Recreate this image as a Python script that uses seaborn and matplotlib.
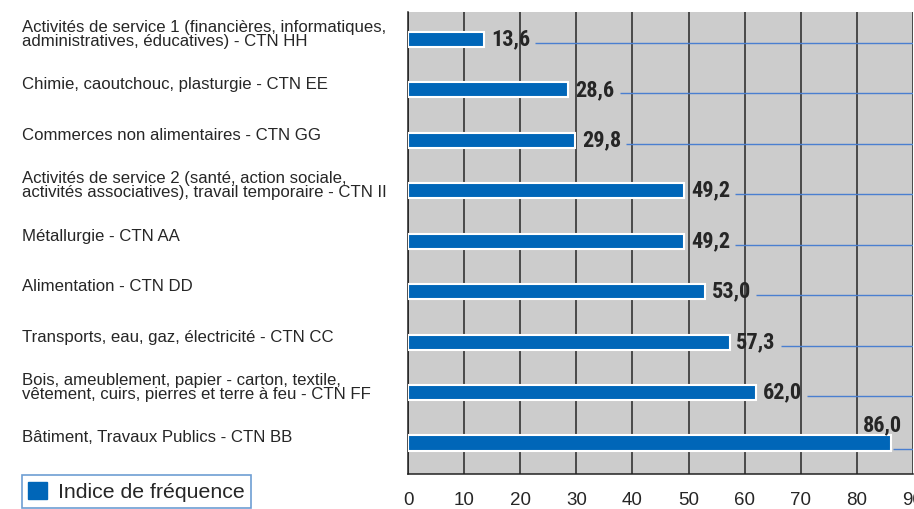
import numpy as np
import pandas as pd
import seaborn as sns
import matplotlib.pyplot as plt
from matplotlib.patches import Patch
import matplotlib.transforms as mtransforms

categories = [
    "Activités de service 1 (financières, informatiques,\nadministratives, éducatives) - CTN HH",
    "Chimie, caoutchouc, plasturgie - CTN EE",
    "Commerces non alimentaires - CTN GG",
    "Activités de service 2 (santé, action sociale,\nactivités associatives), travail temporaire - CTN II",
    "Métallurgie - CTN AA",
    "Alimentation - CTN DD",
    "Transports, eau, gaz, électricité - CTN CC",
    "Bois, ameublement, papier - carton, textile,\nvêtement, cuirs, pierres et terre à feu - CTN FF",
    "Bâtiment, Travaux Publics - CTN BB",
]
values = [13.6, 28.6, 29.8, 49.2, 49.2, 53.0, 57.3, 62.0, 86.0]
value_labels = ["13,6", "28,6", "29,8", "49,2", "49,2", "53,0", "57,3", "62,0", "86,0"]
xticks = [0, 10, 20, 30, 40, 50, 60, 70, 80, 90]
legend_label = "Indice de fréquence"

df = pd.DataFrame({"cat": categories, "val": values})

sns.set_style("white")
plt.rcParams["font.family"] = ["Liberation Sans", "DejaVu Sans"]
narrow = ["Roboto Condensed", "Liberation Sans", "DejaVu Sans"]

blue = "#0066b8"
W, H = 914, 509
fig = plt.figure(figsize=(W / 100, H / 100), dpi=100)
ax = fig.add_axes([408 / W, 1 - 474 / H, (913 - 408) / W, (474 - 12) / H])

sns.barplot(data=df, x="val", y="cat", orient="h", color=blue, width=0.3,
            edgecolor="white", linewidth=1.5, saturation=1, ax=ax, zorder=3)

ax.set_facecolor("#cccccc")
ax.set_xlim(0, 90)
ax.set_ylim(8.615, -0.545)
ax.set_xticks(xticks)
ax.set_xticklabels([str(t) for t in xticks], fontsize=13.5)
ax.grid(axis="x", color="#333333", linewidth=1.2, zorder=0)
ax.set_axisbelow(True)
ax.set_xlabel("")
ax.set_ylabel("")
ax.set_yticks([])
ax.tick_params(axis="x", direction="out", length=7, width=1.1, color="#222222", pad=6)
for s in ["top", "right"]:
    ax.spines[s].set_visible(False)
for s in ["left", "bottom"]:
    ax.spines[s].set_color("#222222")
    ax.spines[s].set_linewidth(1.1)

# category labels, left aligned near the figure edge (sit a little above the bars)
trans = mtransforms.blended_transform_factory(fig.transFigure, ax.transData)
for i, c in enumerate(categories):
    ax.text(22 / W, i - 0.1, c, transform=trans, ha="left", va="center",
            fontsize=12.1, linespacing=0.95, clip_on=False)

# value labels and the thin leader lines
for i, (v, lab) in enumerate(zip(values, value_labels)):
    if v > 80:
        ax.text(88.1, i - 0.36, lab, ha="right", va="center", fontsize=16,
                fontweight="bold", family=narrow, zorder=5)
        ax.hlines(i + 0.12, v + 0.5, 90, color="#4a7fd0", linewidth=1, zorder=2)
    else:
        ax.text(v + 1.2, i, lab, ha="left", va="center", fontsize=16,
                fontweight="bold", family=narrow, zorder=5)
        ax.hlines(i + 0.07, v + 9.1, 90, color="#4a7fd0", linewidth=1, zorder=2)

handles = [Patch(facecolor=blue, edgecolor=blue)]
leg = fig.legend(handles, [legend_label], loc="lower left",
                 bbox_to_anchor=(22 / W, 1 - 508 / H), fontsize=15.3,
                 frameon=True, fancybox=False, borderpad=0.3,
                 handlelength=0.86, handleheight=0.86, handletextpad=0.55,
                 borderaxespad=0)
leg.get_frame().set_edgecolor("#4a86c8")
leg.get_frame().set_linewidth(1.2)

fig.savefig("out.png", dpi=100)
